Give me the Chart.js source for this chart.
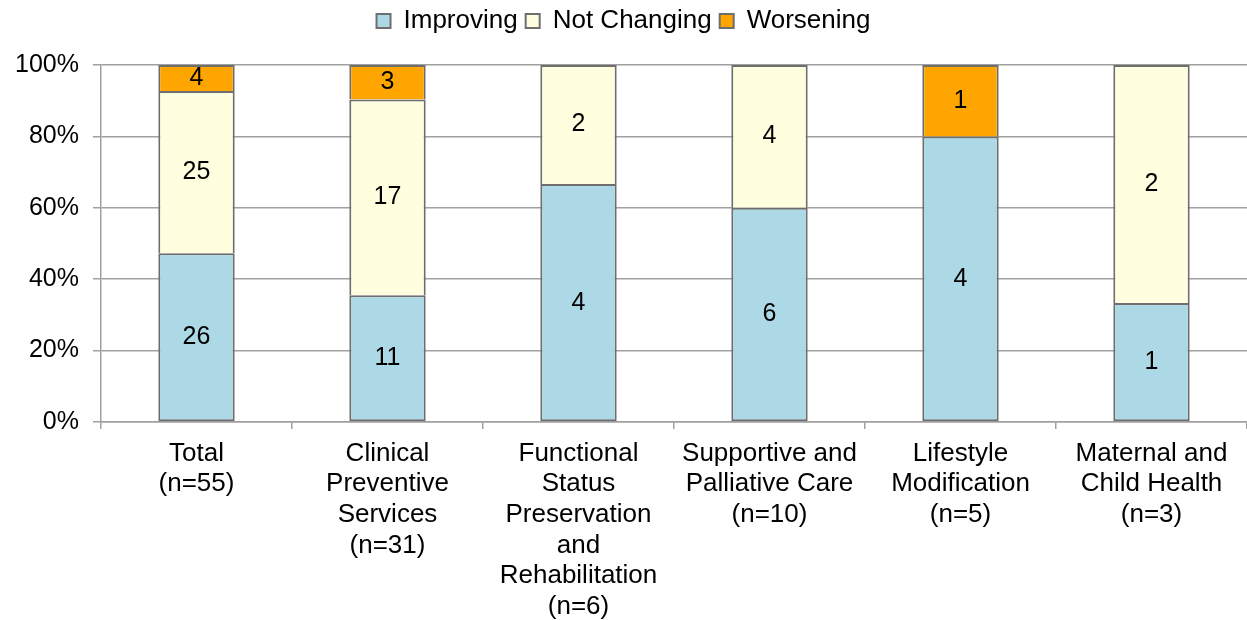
<!DOCTYPE html>
<html>
<head>
<meta charset="utf-8">
<script src="https://cdn.jsdelivr.net/npm/chart.js@4"></script>
<style>
  html, body { margin: 0; padding: 0; background: #fff; }
  #wrap { width: 1247px; height: 620px; position: relative; }
</style>
</head>
<body>
<div id="wrap"><canvas id="graphic"></canvas></div>
<script>
const categories = [
  ['Total', '(n=55)'],
  ['Clinical', 'Preventive', 'Services', '(n=31)'],
  ['Functional', 'Status', 'Preservation', 'and', 'Rehabilitation', '(n=6)'],
  ['Supportive and', 'Palliative Care', '(n=10)'],
  ['Lifestyle', 'Modification', '(n=5)'],
  ['Maternal and', 'Child Health', '(n=3)']
];
const improving = [26, 11, 4, 6, 4, 1];
const notChanging = [25, 17, 2, 4, 0, 2];
const worsening = [4, 3, 0, 0, 1, 0];
const yTicks = [0, 20, 40, 60, 80, 100];

const totals = improving.map((v, i) => v + notChanging[i] + worsening[i]);
const pct = arr => arr.map((v, i) => v / totals[i] * 100);

const series = [
  { label: 'Improving', counts: improving, color: '#ADD8E6' },
  { label: 'Not Changing', counts: notChanging, color: '#FFFFE0' },
  { label: 'Worsening', counts: worsening, color: '#FFA500' }
];

const FONT = 'Liberation Sans, Arial, sans-serif';

// draw the counts in the middle of each segment
const countLabels = {
  id: 'countLabels',
  afterDatasetsDraw(chart) {
    const ctx = chart.ctx;
    ctx.save();
    ctx.font = '25px ' + FONT;
    ctx.fillStyle = '#000';
    ctx.textAlign = 'center';
    ctx.textBaseline = 'middle';
    chart.data.datasets.forEach((ds, di) => {
      const meta = chart.getDatasetMeta(di);
      meta.data.forEach((bar, i) => {
        const n = ds.counts[i];
        if (!n) return;
        ctx.fillText(String(n), bar.x, (bar.y + bar.base) / 2);
      });
    });
    ctx.restore();
  }
};

// keep the legend block tall enough so the plot starts lower
const legendHeight = {
  id: 'legendHeight',
  beforeLayout(chart) {
    const lg = chart.legend;
    if (!lg || lg._patched) return;
    const fit = lg.fit.bind(lg);
    lg.fit = function () { fit(); this.height = 65; };
    lg._patched = true;
  }
};

new Chart(document.getElementById('graphic').getContext('2d'), {
  type: 'bar',
  data: {
    labels: categories,
    datasets: series.map((s, k) => ({
      label: s.label,
      data: pct(s.counts),
      counts: s.counts,
      backgroundColor: s.color,
      borderColor: '#6e6e6e',
      borderWidth: 2,
      borderSkipped: k === 0 ? false : 'start',
      categoryPercentage: 1,
      barPercentage: 0.4
    }))
  },
  plugins: [countLabels, legendHeight],
  options: {
    responsive: true,
    maintainAspectRatio: false,
    animation: false,
    layout: { padding: 0 },
    plugins: {
      tooltip: { enabled: false },
      legend: {
        position: 'top',
        labels: {
          font: { family: FONT, size: 26 },
          color: '#000',
          boxWidth: 14,
          boxHeight: 14,
          padding: 8
        }
      }
    },
    scales: {
      x: {
        stacked: true,
        afterFit(scale) { scale.height = 198; },
        grid: {
          offset: true,
          drawOnChartArea: false,
          drawTicks: true,
          tickLength: 7,
          color: '#a0a0a0',
          lineWidth: 1.5
        },
        border: { color: '#a0a0a0', width: 1.5 },
        ticks: {
          font: { family: FONT, size: 26, lineHeight: 1.18 },
          color: '#000',
          padding: 9,
          maxRotation: 0,
          autoSkip: false
        }
      },
      y: {
        stacked: true,
        min: 0,
        max: 100,
        afterFit(scale) { scale.width = 101; },
        afterBuildTicks(scale) { scale.ticks = yTicks.map(v => ({ value: v })); },
        grid: {
          color: '#a0a0a0',
          lineWidth: 1.5,
          tickLength: 8
        },
        border: { color: '#a0a0a0', width: 1.5 },
        ticks: {
          font: { family: FONT, size: 25 },
          color: '#000',
          padding: 14,
          callback: v => v + '%'
        }
      }
    }
  }
});
</script>
</body>
</html>
